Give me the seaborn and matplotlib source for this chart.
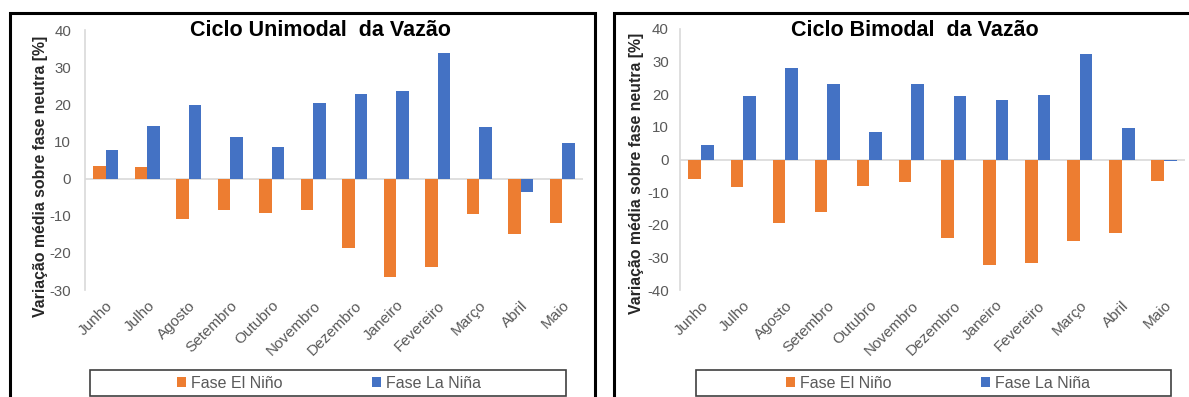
import matplotlib
matplotlib.use("Agg")
import matplotlib.pyplot as plt
from matplotlib.patches import Rectangle
import pandas as pd
import seaborn as sns

# Monthly mean flow anomaly relative to the neutral phase [%]
meses = ["Junho", "Julho", "Agosto", "Setembro", "Outubro", "Novembro",
         "Dezembro", "Janeiro", "Fevereiro", "Março", "Abril", "Maio"]
fases = ["Fase El Niño", "Fase La Niña"]

unimodal_el_nino = [3.4, 3.1, -10.8, -8.5, -9.4, -8.5, -18.7, -26.6, -23.7, -9.6, -15.0, -11.9]
unimodal_la_nina = [7.8, 14.2, 19.7, 11.2, 8.6, 20.4, 22.9, 23.5, 33.9, 13.9, -3.7, 9.7]

bimodal_el_nino = [-6.1, -8.4, -19.4, -16.1, -8.0, -6.9, -24.0, -32.2, -31.7, -25.0, -22.4, -6.6]
bimodal_la_nina = [4.4, 19.4, 28.1, 23.0, 8.4, 23.0, 19.4, 18.3, 19.8, 32.3, 9.8, -0.4]

titulos = ["Ciclo Unimodal  da Vazão", "Ciclo Bimodal  da Vazão"]
ylabel = "Variação média sobre fase neutra [%]"
yticks_uni = [-30, -20, -10, 0, 10, 20, 30, 40]
yticks_bi = [-40, -30, -20, -10, 0, 10, 20, 30, 40]

cores = {"Fase El Niño": "#ED7D31", "Fase La Niña": "#4472C4"}

W, H = 1189, 397


def fx(x):
    return x / W


def fy(y):
    return 1 - y / H


def tabela(el_nino, la_nina):
    return pd.DataFrame({
        "mes": meses * 2,
        "fase": [fases[0]] * len(meses) + [fases[1]] * len(meses),
        "valor": list(el_nino) + list(la_nina),
    })


sns.set_theme(style="white")
plt.rcParams["font.family"] = ["Liberation Sans", "DejaVu Sans"]
plt.rcParams["axes.unicode_minus"] = False

fig = plt.figure(figsize=(W / 100, H / 100), dpi=100)

paineis = [
    dict(df=tabela(unimodal_el_nino, unimodal_la_nina), ticks=yticks_uni,
         ax=(85, 583, 30, 290), frame=(10, 595), title_x=320,
         ylab_x=41, ylab_y=176, leg=(90, 566), leg_cx=329, pad=6),
    dict(df=tabela(bimodal_el_nino, bimodal_la_nina), ticks=yticks_bi,
         ax=(680, 1185, 29, 290), frame=(614, 1210), title_x=915,
         ylab_x=637, ylab_y=173, leg=(696, 1171), leg_cx=938, pad=4),
]

cinza_eixo = "#D9D9D9"
cinza_texto = "#595959"

for p, titulo in zip(paineis, titulos):
    x0, x1, ytop, ybot = p["ax"]
    ax = fig.add_axes([fx(x0), fy(ybot), fx(x1) - fx(x0), fy(ytop) - fy(ybot)])
    sns.barplot(data=p["df"], x="mes", y="valor", hue="fase", order=meses,
                hue_order=fases, palette=cores, width=0.6, linewidth=0,
                saturation=1, ax=ax)
    handles, labels = ax.get_legend_handles_labels()
    ax.get_legend().remove()

    ax.set_xlim(-0.5, len(meses) - 0.5)
    ax.set_ylim(p["ticks"][0], p["ticks"][-1])
    ax.set_yticks(p["ticks"])
    ax.set_xlabel("")
    ax.set_ylabel("")
    ax.axhline(0, color=cinza_eixo, lw=1.2, zorder=0.5)
    for s in ["top", "right", "bottom"]:
        ax.spines[s].set_visible(False)
    ax.spines["left"].set_color(cinza_eixo)
    ax.spines["left"].set_linewidth(1.2)
    ax.tick_params(axis="y", direction="out", length=4, width=1.0,
                   color=cinza_eixo, labelsize=10.8, labelcolor=cinza_texto,
                   pad=p["pad"])
    ax.tick_params(axis="x", length=0, labelsize=11, labelcolor=cinza_texto, pad=6)
    ax.set_xticks(range(len(meses)))
    ax.set_xticklabels(meses, rotation=45, ha="right", va="top",
                       rotation_mode="anchor")
    ax.patch.set_alpha(0)

    fig.text(fx(p["title_x"]), fy(30), titulo, ha="center", va="center",
             fontsize=15.5, fontweight="bold", color="black")
    fig.text(fx(p["ylab_x"]), fy(p["ylab_y"]), ylabel, rotation=90,
             ha="center", va="center", fontsize=11.4, fontweight="bold",
             color="#262626")

    # outer chart frame
    fr0, fr1 = p["frame"]
    fig.add_artist(Rectangle((fx(fr0), fy(430)), fx(fr1) - fx(fr0),
                             fy(13) - fy(430), transform=fig.transFigure,
                             fill=False, ec="black", lw=2.2, clip_on=False))
    # legend box
    l0, l1 = p["leg"]
    fig.add_artist(Rectangle((fx(l0), fy(396)), fx(l1) - fx(l0),
                             fy(370) - fy(396), transform=fig.transFigure,
                             fill=False, ec="#404040", lw=1.2, clip_on=False))
    fig.legend(handles, labels, loc="center", ncol=2, frameon=False,
               bbox_to_anchor=(fx(p["leg_cx"]), fy(383)),
               bbox_transform=fig.transFigure, fontsize=11.5,
               handlelength=0.55, handleheight=0.55, handletextpad=0.3,
               columnspacing=5.6, labelcolor=cinza_texto)

fig.savefig("out.png", dpi=100)
